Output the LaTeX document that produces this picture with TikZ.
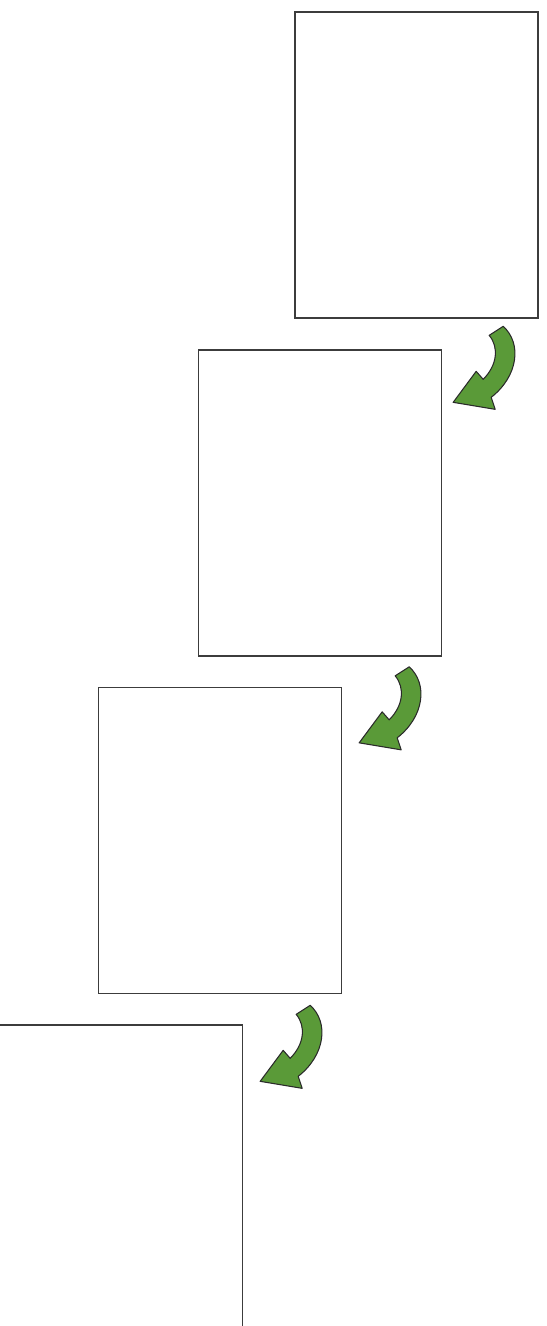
\documentclass[tikz,border=0pt]{standalone}
\usepackage{xcolor}
\usepackage{tikz}

\begin{document}
\begin{tikzpicture}[x=0.02cm,y=-0.02cm]

% Colori
\definecolor{pageLine}{HTML}{3C3C3C}
\definecolor{arrowGreen}{HTML}{5A9A38}
\definecolor{arrowLine}{HTML}{2A2A2A}

\tikzset{
  pagebox/.style={draw=pageLine, line width=0.8pt, fill=white, inner sep=0pt,
    minimum width=4.86cm, minimum height=6.12cm},
  turnarrow/.style={fill=arrowGreen, draw=arrowLine, line width=0.6pt, line join=round}
}

% Freccia curva (origine = angolo in alto a destra della pagina successiva)
\def\turnpath{(61,-23) .. controls (80,-6) and (76,27) .. (49,48) -- (53,60) -- (11,53)
  -- (34,22) -- (41,30) .. controls (55,16) and (57,-2) .. (47,-14) -- cycle}

\useasboundingbox (0,0) rectangle (547,1326);

% Pagine
\node[pagebox] (page1) at (416.5,165) {};
\node[pagebox] (page2) at (320,503) {};
\node[pagebox] (page3) at (220,840.5) {};
\node[pagebox] (page4) at (121,1178) {};

% Frecce
\begin{scope}[shift={(page2.north east)}]
  \path[turnarrow] \turnpath;
\end{scope}
\begin{scope}[shift={(page3.north east)}, shift={(6,3)}]
  \path[turnarrow] \turnpath;
\end{scope}
\begin{scope}[shift={(page4.north east)}, shift={(6,4)}]
  \path[turnarrow] \turnpath;
\end{scope}

\end{tikzpicture}
\end{document}
